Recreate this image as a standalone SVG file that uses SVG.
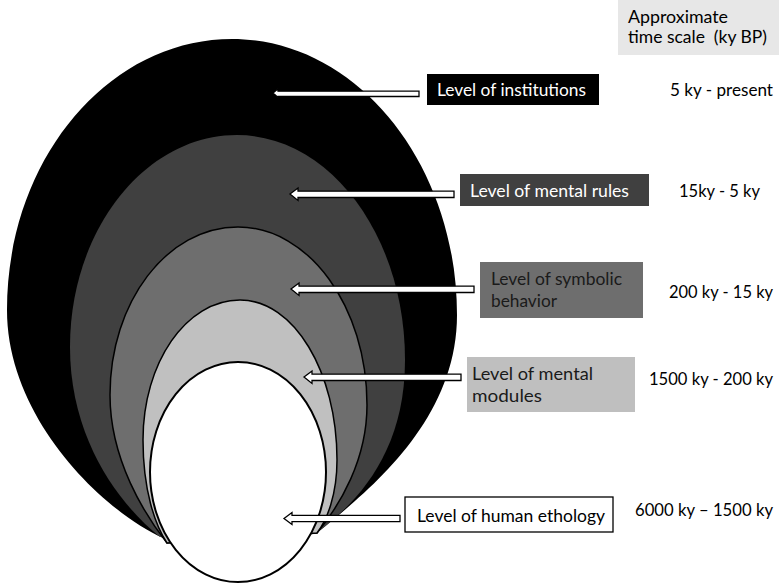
<svg xmlns="http://www.w3.org/2000/svg" width="779" height="585" viewBox="0 0 779 585">
<style>
text{font-family:Lato,"Open Sans","Liberation Sans",sans-serif;font-size:17px;fill:#000}
.w{fill:#fff}
.d{fill:#1a1a1a}
.ol{stroke:#000;stroke-width:1.5}
.arr{fill:#fff;stroke:#000;stroke-width:1.3;stroke-linejoin:miter}
</style>
<rect width="779" height="585" fill="#fff"/>
<g id="shapes">
<g id="shape-institutions"><path d="M163,538 C105,512 7,420 7,310 C7,160 108,39 232,39 C356,39 457,163 457,315 C457,420 370,490 318,532 Z" fill="#000"/></g>
<g id="shape-mental-rules"><path d="M160,537 C120,505 70,440 70,347 C70,230 145,135 237,135 C330,135 405,236 405,360 C405,450 360,500 318,532 Z" fill="#404040"/></g>
<g id="shape-symbolic"><path d="M167,543 C145,515 110,460 110,395 C110,302 167,227 238,227 C309,227 367,307 367,405 C367,460 340,505 317,533 Z" fill="#6e6e6e" class="ol"/></g>
<g id="shape-modules"><path d="M167,543 C155,525 143,490 143,440 C143,363 186,300 240,300 C294,300 337,372 337,460 C337,495 327,520 317,533 Z" fill="#c0c0c0" class="ol"/></g>
<g id="shape-ethology"><ellipse cx="238" cy="472" rx="88" ry="110" fill="#fff" stroke="#000" stroke-width="2"/></g>
</g>
<g id="connectors">
<path class="arr" d="M273,93 L278,88.8 L278,91.2 L419,91.2 L419,96.5 L278,96.5 L278,97.5 Z"/>
<path class="arr" d="M290,194 L298,188 L298,191.2 L454,191.2 L454,197.5 L298,197.5 L298,200.5 Z"/>
<path class="arr" d="M291,289 L299,283 L299,286.2 L474,286.2 L474,292.5 L299,292.5 L299,295.5 Z"/>
<path class="arr" d="M304,377 L312,371 L312,374.2 L461,374.2 L461,380.5 L312,380.5 L312,383.5 Z"/>
<path class="arr" d="M284,518.5 L292,512.5 L292,515.3 L400,515.3 L400,521.7 L292,521.7 L292,524.5 Z"/>
</g>
<g id="node-header">
<rect x="618" y="0" width="161" height="55" fill="#e7e7e7"/>
<text x="628" y="23" textLength="100" lengthAdjust="spacingAndGlyphs">Approximate</text>
<text x="628" y="43" textLength="139" lengthAdjust="spacingAndGlyphs" xml:space="preserve">time scale  (ky BP)</text>
</g>
<g id="node-institutions">
<rect x="427" y="74" width="172" height="31" fill="#000"/>
<text class="w" x="437" y="96" textLength="149" lengthAdjust="spacingAndGlyphs">Level of institutions</text>
<text x="670" y="96" textLength="103" lengthAdjust="spacingAndGlyphs">5 ky - present</text>
</g>
<g id="node-mental-rules">
<rect x="460" y="174" width="189" height="32" fill="#404040"/>
<text class="w" x="470" y="197" textLength="159" lengthAdjust="spacingAndGlyphs">Level of mental rules</text>
<text x="679" y="197" textLength="81" lengthAdjust="spacingAndGlyphs">15ky - 5 ky</text>
</g>
<g id="node-symbolic">
<rect x="480" y="262" width="163" height="56" fill="#6e6e6e"/>
<text class="d" x="491" y="285" textLength="131" lengthAdjust="spacingAndGlyphs">Level of symbolic</text>
<text class="d" x="491" y="307" textLength="66" lengthAdjust="spacingAndGlyphs">behavior</text>
<text x="669" y="298" textLength="104" lengthAdjust="spacingAndGlyphs">200 ky - 15 ky</text>
</g>
<g id="node-modules">
<rect x="467" y="357" width="168" height="55" fill="#bfbfbf"/>
<text class="d" x="472" y="380" textLength="121" lengthAdjust="spacingAndGlyphs">Level of mental</text>
<text class="d" x="472" y="402" textLength="70" lengthAdjust="spacingAndGlyphs">modules</text>
<text x="649" y="385" textLength="124" lengthAdjust="spacingAndGlyphs">1500 ky - 200 ky</text>
</g>
<g id="node-ethology">
<rect x="405" y="497" width="208" height="35" fill="#fff" stroke="#000" stroke-width="1.3"/>
<text x="417" y="522" textLength="188" lengthAdjust="spacingAndGlyphs">Level of human ethology</text>
<text x="635" y="516" textLength="138" lengthAdjust="spacingAndGlyphs">6000 ky – 1500 ky</text>
</g>
</svg>
